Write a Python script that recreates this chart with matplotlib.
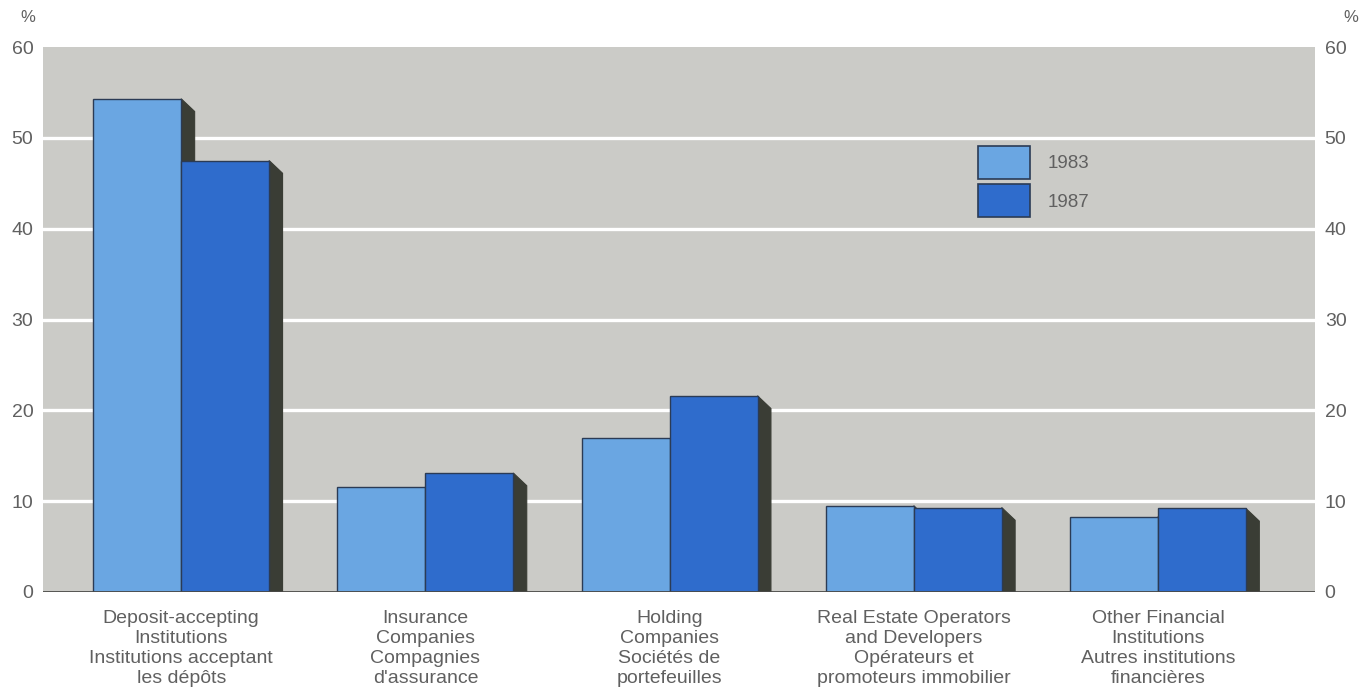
import numpy as np
import matplotlib
matplotlib.use("Agg")
from matplotlib import pyplot as plt
from matplotlib.patches import Polygon, Patch

plt.rcParams['font.family'] = ['Liberation Sans', 'DejaVu Sans']

categories = [
    "Deposit-accepting\nInstitutions\nInstitutions acceptant\nles dépôts",
    "Insurance\nCompanies\nCompagnies\nd'assurance",
    "Holding\nCompanies\nSociétés de\nportefeuilles",
    "Real Estate Operators\nand Developers\nOpérateurs et\npromoteurs immobilier",
    "Other Financial\nInstitutions\nAutres institutions\nfinancières",
]
years = ["1983", "1987"]
values_1983 = [54.3, 11.6, 16.9, 9.5, 8.3]
values_1987 = [47.5, 13.1, 21.6, 9.3, 9.2]
yticks = [0, 10, 20, 30, 40, 50, 60]

col_1983 = "#6aa6e2"
col_1987 = "#2f6ccc"
col_side = "#3a3d35"
col_bg = "#cbcbc7"
col_text = "#606060"

fig = plt.figure(figsize=(13.63, 6.95), dpi=100)
ax = fig.add_axes([43 / 1363, 1 - 592 / 695, 1272 / 1363, 545 / 695])
ax.set_facecolor(col_bg)

x = np.arange(len(categories))
width = 0.36
dx = 0.055   # depth of the dark side face
dy = 1.4

def bar3d(xl, h, color, z):
    xr = xl + width
    side = Polygon([(xr, 0), (xr, h), (xr + dx, h - dy), (xr + dx, 0)],
                   closed=True, facecolor=col_side, edgecolor=col_side, lw=0.8, zorder=z)
    ax.add_patch(side)
    ax.bar(xl, h, width=width, align='edge', color=color,
           edgecolor="#2b3b55", linewidth=1.0, zorder=z + 0.5)

for i in range(len(categories)):
    bar3d(x[i] - width, values_1983[i], col_1983, 3)
    bar3d(x[i], values_1987[i], col_1987, 4)

ax.set_xlim(-0.566, 4.643)
ax.set_ylim(0, 60)
ax.set_yticks(yticks)
ax.grid(axis='y', color='white', lw=2.4, zorder=1)
ax.axhline(0, color='#4a4a48', lw=2, zorder=6)
for s in ax.spines.values():
    s.set_visible(False)
ax.tick_params(axis='y', length=0, labelsize=14, labelcolor=col_text,
               left=True, right=True, labelleft=True, labelright=True, pad=7)
ax.yaxis.get_gridlines()[0].set_visible(False)
ax.yaxis.get_gridlines()[-1].set_visible(False)

ax.set_xticks(x)
ax.set_xticklabels(categories, fontsize=14, color=col_text, linespacing=1.22)
ax.tick_params(axis='x', length=0, pad=13)

fig.text(20 / 1363, 1 - 18 / 695, "%", fontsize=12, color=col_text, va='center')
fig.text(1343 / 1363, 1 - 18 / 695, "%", fontsize=12, color=col_text, va='center')

handles = [Patch(facecolor=col_1983, edgecolor="#2b3b55", lw=1.2),
           Patch(facecolor=col_1987, edgecolor="#2b3b55", lw=1.2)]
ax.legend(handles, years, loc='upper left', bbox_to_anchor=(0.735, 0.818),
          frameon=False, fontsize=13.5, labelcolor=col_text, handlelength=2.8,
          handleheight=2.3, labelspacing=0.3, borderpad=0, borderaxespad=0,
          handletextpad=0.9)

fig.savefig("out.png", dpi=100)
